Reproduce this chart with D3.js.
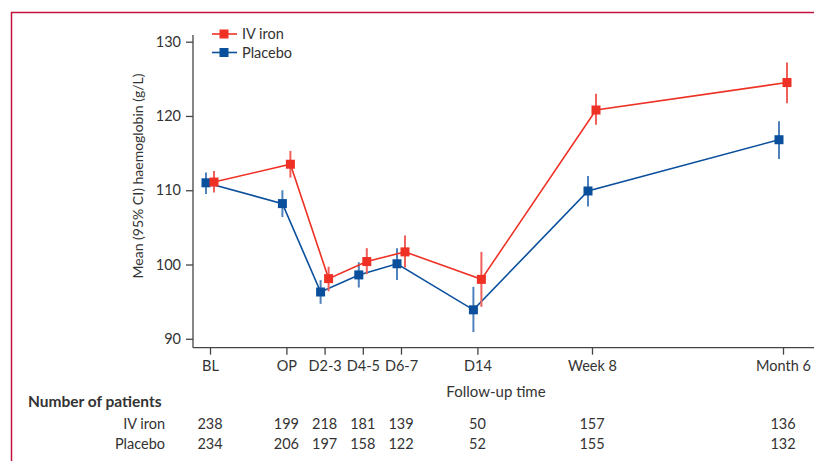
<!DOCTYPE html>
<html>
<head>
<meta charset="utf-8">
<script src="https://cdn.jsdelivr.net/npm/d3@7"></script>
<style>
  body { margin: 0; background: #fff; }
  text { font-family: Lato, "Open Sans", sans-serif; fill: #333; }
</style>
</head>
<body>
<div id="chart"></div>
<script>
// time points, spaced on an uneven follow-up scale
var timepoints = ['BL', 'OP', 'D2-3', 'D4-5', 'D6-7', 'D14', 'Week 8', 'Month 6']
var timeIndex = [0, 2, 3, 4, 5, 7, 10, 15]

var ironMean = [111.1, 113.5, 98.1, 100.4, 101.7, 98.0, 120.8, 124.5]
var ironLow  = [109.7, 111.7, 96.4, 98.7, 99.6, 94.3, 118.8, 121.7]
var ironHigh = [112.6, 115.3, 99.7, 102.2, 103.9, 101.7, 123.0, 127.2]

var placeboMean = [111.0, 108.2, 96.3, 98.6, 100.1, 93.9, 109.9, 116.8]
var placeboLow  = [109.5, 106.4, 94.7, 96.9, 97.9, 90.9, 107.8, 114.2]
var placeboHigh = [112.4, 110.0, 97.9, 100.3, 102.2, 97.0, 111.9, 119.3]

var ironN    = [238, 199, 218, 181, 139, 50, 157, 136]
var placeboN = [234, 206, 197, 158, 122, 52, 155, 132]

var yTicks = [90, 100, 110, 120, 130]

var width = 814, height = 461

var svg = d3.select('#chart')
  .append('svg')
  .attr('width', width)
  .attr('height', height)

// frame
svg.append('path')
  .attr('d', 'M11.5,' + height + 'V12.5H' + width)
  .attr('fill', 'none')
  .attr('stroke', '#c4123f')
  .attr('stroke-width', 1.5)

var x = d3.scaleLinear().domain([0, 15]).range([210, 783])
var y = d3.scaleLinear().domain([88.8, 130.9]).range([347.7, 35])

var axisColor = '#444'

// y axis
var yAxis = svg.append('g')
  .attr('transform', 'translate(193,0)')
  .call(d3.axisLeft(y).tickValues(yTicks).tickSize(7).tickPadding(5))
yAxis.select('.domain').attr('d', 'M0,' + y.range()[1] + 'V' + y.range()[0])
yAxis.selectAll('line, path').attr('stroke', axisColor).attr('stroke-width', 1.3)
yAxis.selectAll('text').attr('font-size', 14.5).attr('fill', '#333')
  .attr('font-family', 'Lato, sans-serif')

// x axis
var xAxis = svg.append('g')
  .attr('transform', 'translate(0,347.7)')
  .call(d3.axisBottom(x).tickValues(timeIndex)
    .tickFormat(function(d, i) { return timepoints[i] })
    .tickSize(7).tickPadding(6))
xAxis.select('.domain').attr('d', 'M193,0H' + width)
xAxis.selectAll('line, path').attr('stroke', axisColor).attr('stroke-width', 1.3)
xAxis.selectAll('text').attr('font-size', 14.5).attr('fill', '#333')
  .attr('font-family', 'Lato, sans-serif')

svg.append('text')
  .attr('x', 496).attr('y', 397)
  .attr('text-anchor', 'middle')
  .attr('font-size', 15)
  .text('Follow-up time')

svg.append('text')
  .attr('transform', 'translate(143,176) rotate(-90)')
  .attr('text-anchor', 'middle')
  .attr('font-size', 14)
  .text('Mean (95% CI) haemoglobin (g/L)')

var series = [
  { name: 'Placebo', color: '#0a4f9c', bar: '#4f82bd', mean: placeboMean, low: placeboLow, high: placeboHigh, dx: -4 },
  { name: 'IV iron', color: '#ee3124', bar: '#f0605a', mean: ironMean, low: ironLow, high: ironHigh, dx: 4 }
]

var line = d3.line()
  .x(function(d) { return d.x })
  .y(function(d) { return d.y })

series.forEach(function(s) {
  var pts = timeIndex.map(function(t, i) {
    return { x: x(t) + s.dx, y: y(s.mean[i]), lo: y(s.low[i]), hi: y(s.high[i]) }
  })
  var g = svg.append('g')

  g.append('path')
    .datum(pts)
    .attr('d', line)
    .attr('fill', 'none')
    .attr('stroke', s.color)
    .attr('stroke-width', 1.6)

  g.selectAll('.ci')
    .data(pts)
    .enter()
    .append('line')
    .attr('x1', function(d) { return d.x })
    .attr('x2', function(d) { return d.x })
    .attr('y1', function(d) { return d.lo })
    .attr('y2', function(d) { return d.hi })
    .attr('stroke', s.bar)
    .attr('stroke-width', 2)

  g.selectAll('rect')
    .data(pts)
    .enter()
    .append('rect')
    .attr('x', function(d) { return d.x - 4.5 })
    .attr('y', function(d) { return d.y - 4.5 })
    .attr('width', 9)
    .attr('height', 9)
    .attr('fill', s.color)
})

// legend
var legend = svg.append('g')
var legendItems = [series[1], series[0]]
legendItems.forEach(function(s, i) {
  var ly = 34 + i * 18.5
  legend.append('line')
    .attr('x1', 212).attr('x2', 237)
    .attr('y1', ly).attr('y2', ly)
    .attr('stroke', s.color).attr('stroke-width', 1.6)
  legend.append('rect')
    .attr('x', 224 - 4.5).attr('y', ly - 4.5)
    .attr('width', 9).attr('height', 9)
    .attr('fill', s.color)
  legend.append('text')
    .attr('x', 242).attr('y', ly + 5)
    .attr('font-size', 14.5)
    .text(s.name)
})

// number at risk table
svg.append('text')
  .attr('x', 28).attr('y', 407)
  .attr('font-size', 15.5)
  .attr('font-weight', 'bold')
  .text('Number of patients')

var rows = [
  { label: 'IV iron', n: ironN, y: 429 },
  { label: 'Placebo', n: placeboN, y: 449 }
]
rows.forEach(function(r) {
  svg.append('text')
    .attr('x', 165).attr('y', r.y)
    .attr('text-anchor', 'end')
    .attr('font-size', 14.5)
    .text(r.label)
  svg.selectAll(null)
    .data(r.n)
    .enter()
    .append('text')
    .attr('x', function(d, i) { return x(timeIndex[i]) })
    .attr('y', r.y)
    .attr('text-anchor', 'middle')
    .attr('font-size', 14.5)
    .text(function(d) { return d })
})
</script>
</body>
</html>
